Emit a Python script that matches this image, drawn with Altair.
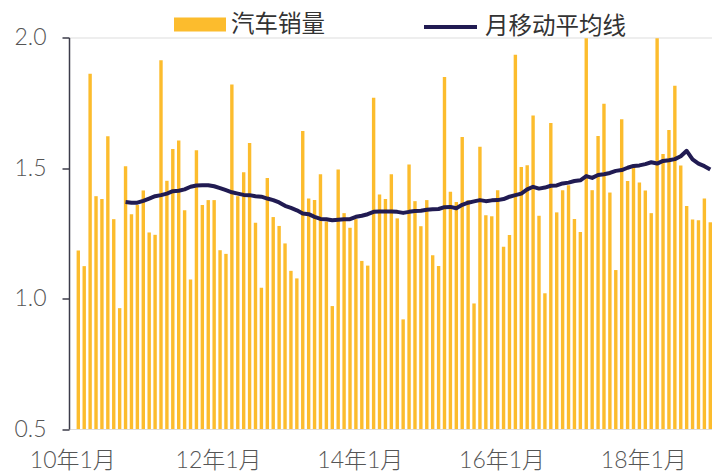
import altair as alt
import pandas as pd

# ---- data ----
x_tick_idx = [0, 24, 48, 72, 96]
x_tick_labels = ['10年1月', '12年1月', '14年1月', '16年1月', '18年1月']
y_ticks = [0.5, 1.0, 1.5, 2.0]

# monthly car sales index, Jan 2010 .. Dec 2018
sales = [
    1.184, 1.124, 1.861, 1.392, 1.381, 1.622, 1.304, 0.963, 1.507, 1.323, 1.358, 1.414,
    1.253, 1.244, 1.913, 1.451, 1.573, 1.605, 1.338, 1.073, 1.568, 1.358, 1.377, 1.377,
    1.185, 1.171, 1.820, 1.392, 1.484, 1.596, 1.290, 1.041, 1.462, 1.312, 1.278, 1.211,
    1.106, 1.077, 1.642, 1.383, 1.377, 1.476, 1.295, 0.971, 1.494, 1.327, 1.271, 1.304,
    1.144, 1.126, 1.769, 1.398, 1.381, 1.476, 1.307, 0.920, 1.513, 1.373, 1.277, 1.377,
    1.166, 1.125, 1.849, 1.409, 1.370, 1.619, 1.377, 0.981, 1.581, 1.319, 1.315, 1.415,
    1.198, 1.243, 1.934, 1.504, 1.511, 1.701, 1.317, 1.020, 1.672, 1.330, 1.415, 1.434,
    1.305, 1.255, 1.997, 1.415, 1.623, 1.746, 1.406, 1.109, 1.687, 1.450, 1.504, 1.444,
    1.414, 1.327, 1.997, 1.554, 1.646, 1.815, 1.510, 1.354, 1.303, 1.300, 1.383, 1.292,
]

# moving average, starting at month index 8
ma_start = 8
moving_avg = [
    1.370, 1.367, 1.367, 1.374, 1.383, 1.392, 1.396, 1.402, 1.411,
    1.413, 1.418, 1.428, 1.433, 1.434, 1.434, 1.430, 1.423, 1.415, 1.407, 1.402, 1.397,
    1.396, 1.392, 1.390, 1.383, 1.377, 1.368,
    1.355, 1.347, 1.338, 1.326, 1.323, 1.313, 1.305, 1.304, 1.300, 1.302, 1.304, 1.304,
    1.313, 1.317, 1.323, 1.332, 1.333, 1.333, 1.333,
    1.332, 1.328, 1.332, 1.335, 1.336, 1.340, 1.342, 1.343, 1.350, 1.351, 1.346, 1.359,
    1.367, 1.372, 1.377, 1.373, 1.376, 1.377,
    1.381, 1.390, 1.396, 1.402, 1.418, 1.428, 1.421, 1.425, 1.432, 1.433, 1.441, 1.444,
    1.450, 1.453, 1.469, 1.462, 1.473, 1.476, 1.481,
    1.489, 1.492, 1.501, 1.508, 1.510, 1.515, 1.522, 1.517, 1.527, 1.530, 1.534, 1.545,
    1.566, 1.533, 1.517, 1.507, 1.494,
]

bar_name = '汽车销量'
line_name = '月移动平均线'
bar_color = '#FCBC2D'
line_color = '#211B52'

df_bar = pd.DataFrame({'idx': list(range(len(sales))), 'value': sales, 's_bar': bar_name})
df_line = pd.DataFrame({'idx': list(range(ma_start, ma_start + len(moving_avg))),
                        'value': moving_avg, 's_line': line_name})

FONT = 'Noto Sans CJK SC'
AXFONT = "Lato, 'Noto Sans CJK SC'"
label_lookup = '[' + ','.join("'" + t + "'" for t in x_tick_labels) + ']'
label_expr = label_lookup + '[indexof(' + str(x_tick_idx) + ', datum.value)]'

x_scale = alt.Scale(domain=[-1.575, 107.29], nice=False, zero=False, padding=0)
y_scale = alt.Scale(domain=[0.5, 2.0], nice=False, zero=False, padding=0)

x_axis = alt.Axis(values=x_tick_idx, labelExpr=label_expr, domain=False, ticks=False,
                  grid=False, title=None, labelFont=AXFONT, labelFontSize=23,
                  labelFontWeight=300,
                  labelColor='#555555', labelPadding=20,
                  labelOffset={'condition': {'test': 'datum.value === 0', 'value': -6},
                               'value': -2},
                  labelFlush=False, labelOverlap=False)
y_axis = alt.Axis(values=y_ticks, format='.1f', grid=False, title=None,
                  labelFont=AXFONT, labelFontSize=23, labelFontWeight=300,
                  labelColor='#555555',
                  tickSize=7, tickWidth=1.5, tickColor='#3c3c4a',
                  domainColor='#3c3c4a', domainWidth=1.5, labelPadding=16)

bars = alt.Chart(df_bar).mark_bar(size=3.4).encode(
    x=alt.X('idx:Q', scale=x_scale, axis=x_axis),
    y=alt.Y('value:Q', scale=y_scale, axis=y_axis),
    y2=alt.datum(0.5),
    color=alt.Color('s_bar:N', scale=alt.Scale(domain=[bar_name], range=[bar_color]),
                    legend=alt.Legend(orient='none', legendX=118, legendY=-26, title=None,
                                      symbolType='M-2,-0.54L2,-0.54L2,0.54L-2,0.54Z',
                                      symbolSize=676, symbolStrokeWidth=0,
                                      labelFont=FONT, labelFontSize=23.5,
                                      labelColor='#333333', labelOffset=18)),
)

line = alt.Chart(df_line).mark_line(strokeWidth=4, strokeJoin='round').encode(
    x=alt.X('idx:Q', scale=x_scale),
    y=alt.Y('value:Q', scale=y_scale),
    stroke=alt.Stroke('s_line:N', scale=alt.Scale(domain=[line_name], range=[line_color]),
                      legend=alt.Legend(orient='none', legendX=366, legendY=-26, title=None,
                                        symbolType='M-2,0L2,0', symbolSize=702,
                                        symbolStrokeWidth=4,
                                        labelFont=FONT, labelFontSize=23.5,
                                        labelColor='#333333', labelOffset=19)),
)

chart = alt.layer(bars, line).properties(
    width=643, height=391.5,
    autosize=alt.AutoSizeParams(type='none'),
    padding={'left': 61, 'top': 29.5, 'right': 0, 'bottom': 43},
).configure_view(stroke=None).configure(font=FONT)

chart.save('out.html', embed_options={'renderer': 'svg', 'actions': False})
